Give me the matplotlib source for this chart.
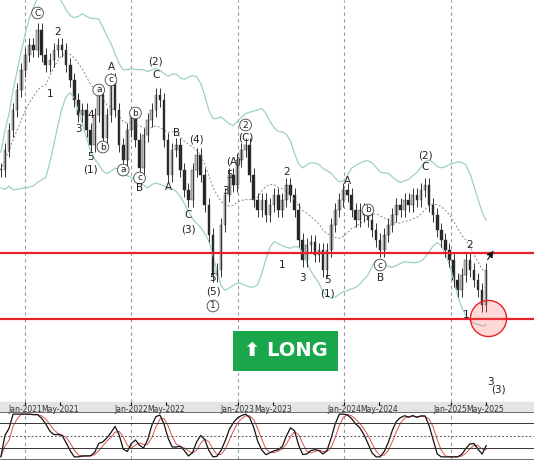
import numpy as np
import pandas as pd
import matplotlib
matplotlib.use("Agg")
import matplotlib.pyplot as plt
import matplotlib.dates as mdates

# closes (bi-weekly bars)
closes = [230, 250, 270, 290, 310, 330, 345, 355, 350, 370, 345, 335, 340, 350, 355, 350,
          335, 320, 300, 285, 290, 270, 255, 285, 305, 262, 285, 320, 290, 255, 240, 270,
          285, 260, 232, 265, 280, 290, 305, 300, 260, 225, 250, 255, 230, 210, 200, 230,
          245, 225, 195, 165, 125, 130, 175, 205, 225, 215, 240, 250, 255, 225, 200, 190,
          200, 185, 195, 205, 190, 200, 215, 205, 190, 160, 140, 155, 158, 145, 150, 130,
          150, 175, 190, 200, 210, 205, 190, 180, 190, 185, 180, 170, 160, 150, 165, 175,
          185, 195, 190, 200, 195, 205, 200, 210, 215, 195, 185, 170, 160, 150, 140, 120,
          110, 125, 140, 130, 120, 110, 95, 130]
start_date = "2020-10-10"
tick_labels = ["Jan-2021", "May-2021", "Jan-2022", "May-2022", "Jan-2023", "May-2023",
               "Jan-2024", "May-2024", "Jan-2025", "May-2025"]
year_starts = ["2021-01-01", "2022-01-01", "2023-01-01", "2024-01-01", "2025-01-01"]

# wave labels: (text, bar index, level, circled)
wave_labels = [
    ("C", 9, 387, True), ("2", 14, 368, False), ("1", 12, 306, False), ("A", 27, 333, False),
    ("a", 24, 310, True), ("b", 25, 253, True), ("3", 19, 271, False), ("4", 22, 285, False),
    ("5", 22, 243, False), ("(1)", 22, 230, False), ("c", 27, 320, True), ("a", 30, 230, True),
    ("b", 33, 287, True), ("c", 34, 222, True), ("B", 34, 212, False), ("C", 38, 325, False),
    ("(2)", 38, 338, False), ("B", 43, 267, False), ("A", 41, 213, False), ("C", 46, 185, False),
    ("(3)", 46, 170, False), ("(4)", 48, 260, False), ("5", 52, 122, False), ("(5)", 52, 108, False),
    ("1", 52, 94, True), ("(A)", 57, 238, False), ("5", 56, 225, False), ("3", 55, 209, False),
    ("(C)", 60, 263, False), ("2", 60, 275, True), ("2", 70, 228, False), ("1", 69, 135, False),
    ("3", 74, 122, False), ("5", 80, 120, False), ("(1)", 80, 107, False), ("A", 85, 219, False),
    ("b", 90, 190, True), ("c", 93, 135, True), ("B", 93, 122, False), ("C", 104, 233, False),
    ("(2)", 104, 245, False), ("2", 115, 155, False), ("1", 114, 85, False), ("3", 120, 18, False),
    ("(3)", 122, 10, False),
]

dates = pd.date_range(start_date, periods=len(closes), freq="14D")
c = np.array(closes, dtype=float)
o = np.r_[c[0], c[:-1]]
hi = np.maximum(o, c) + 7
lo = np.minimum(o, c) - 7

s = pd.Series(c)
mid = s.rolling(12, min_periods=1).mean()
sd = s.rolling(12, min_periods=1).std().fillna(0).rolling(3, min_periods=1).mean()
upper = mid + 1.6 * sd + 18
lower = mid - 1.6 * sd - 18

lowest = s.rolling(9, min_periods=1).min()
highest = s.rolling(9, min_periods=1).max()
k = (100 * (s - lowest) / (highest - lowest).replace(0, 1)).rolling(3, min_periods=1).mean()
sig = k.rolling(3, min_periods=1).mean()

fig = plt.figure(figsize=(5.34, 4.62), dpi=100)
fig.patches.append(plt.Rectangle((0, 1 - 411 / 462), 1, 9 / 462, transform=fig.transFigure,
                                 color="#e4e4e4", zorder=-5))
ax = fig.add_axes([0, 1 - 402 / 462, 1, 402 / 462])
ax2 = fig.add_axes([0, 3 / 462, 1, 47 / 462], sharex=ax)
ax.patch.set_alpha(0)
ax2.patch.set_alpha(0)

x0 = mdates.date2num(dates[0])
ax.set_xlim(x0 - 3, x0 + 534 / 106.5 * 365)
ax.set_ylim(-2, 400)

for yd in year_starts:
    for a in (ax, ax2):
        a.axvline(pd.Timestamp(yd), color="#999999", ls=(0, (3, 3)), lw=0.8)

ax.plot(dates, upper, color="#9fcfca", lw=0.9)
ax.plot(dates, lower, color="#9fcfca", lw=0.9)
ax.plot(dates, mid, color="#888888", lw=0.7, ls=(0, (2, 2)))

w = 9
for d, oo, cc, h, l in zip(dates, o, c, hi, lo):
    ax.vlines(d, l, h, color="#333333", lw=0.7)
    col = "#222222" if cc < oo else "#bbbbbb"
    ax.bar(d, max(abs(cc - oo), 1.5), bottom=min(oo, cc), width=w, color=col, edgecolor="#333333", lw=0.3)

ax.axhline(147, color="#e8202a", lw=1.6)
ax.axhline(81, color="#e8202a", lw=1.6)

for t, i, lev, circ in wave_labels:
    kw = dict(ha="center", va="center", fontsize=7.5 if not circ else 6.5, color="#222222")
    if circ:
        kw["bbox"] = dict(boxstyle="circle,pad=0.15", fc="white", ec="#444444", lw=0.6)
    ax.text(dates[min(i, len(dates) - 1)] + pd.Timedelta(days=14 * max(0, i - len(dates) + 1)), lev, t, **kw)

ax.plot([dates[-1] + pd.Timedelta(days=7)], [82], "o", ms=26, mfc=(1, 0.4, 0.4, 0.25), mec="#e8202a", mew=1)
ax.annotate("", xy=(dates[-1] + pd.Timedelta(days=30), 152), xytext=(dates[-1], 138),
            arrowprops=dict(arrowstyle="-|>", color="#111111", lw=0.8, ls="--"))

ax.text(pd.Timestamp("2023-06-15"), 49, "⬆ LONG", ha="center", va="center", fontsize=14,
        fontweight="bold", color="white",
        bbox=dict(boxstyle="square,pad=0.55", fc="#1aa64a", ec="none"))

ticks = [pd.Timestamp(f"{t[4:]}-{'01' if t.startswith('Jan') else '05'}-01") for t in tick_labels]
ax.set_xticks(ticks)
ax.set_xticklabels(tick_labels, fontsize=5.5, color="#333333")
ax.tick_params(axis="x", direction="out", pad=0.5, length=2, labelbottom=True)
ax.set_yticks([])
for sp in ax.spines.values():
    sp.set_visible(False)

ax2.plot(dates, sig, color="#d9534f", lw=0.7)
ax2.plot(dates, k, color="#111111", lw=0.9)
for lv in (80, 20):
    ax2.axhline(lv, color="#333333", lw=0.7)
ax2.axhline(50, color="#555555", lw=0.7, ls=(0, (2, 2)))
ax2.set_ylim(-5, 105)
ax2.set_yticks([])
ax2.tick_params(axis="x", bottom=False, labelbottom=False)
for sp in ax2.spines.values():
    sp.set_color("#555555")
    sp.set_linewidth(0.6)
ax2.spines["left"].set_visible(False)
ax2.spines["right"].set_visible(False)

fig.savefig("out.png", dpi=100)
